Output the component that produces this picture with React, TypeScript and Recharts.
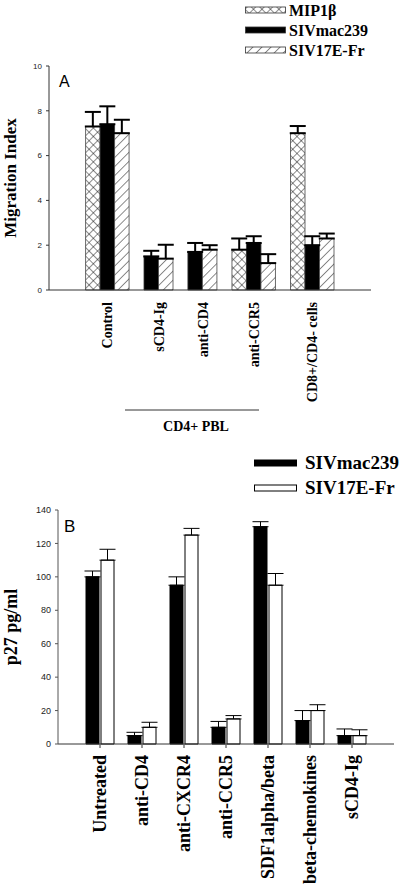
import React from 'react';
import { BarChart, Bar, XAxis, YAxis, ErrorBar, Legend } from 'recharts';

// ---------- Panel A data ----------
const groupsA = ['Control', 'sCD4-Ig', 'anti-CD4', 'anti-CCR5', 'CD8+/CD4- cells'];
const xPosA = [2, 3.5, 5, 7, 9];
const mipA = [7.3, null, null, 1.8, 7.0];
const mipAErr = [0.65, null, null, 0.5, 0.32];
const mac239A = [7.4, 1.5, 1.7, 2.1, 2.0];
const mac239AErr = [0.8, 0.25, 0.4, 0.3, 0.4];
const e17A = [7.0, 1.4, 1.8, 1.2, 2.3];
const e17AErr = [0.6, 0.62, 0.2, 0.4, 0.22];
const yTicksA = [0, 2, 4, 6, 8, 10];
const xTicksA = [1, 2, 3, 4, 5, 6, 7, 8, 9, 10, 11];
const seriesNamesA = ['MIP1β', 'SIVmac239', 'SIV17E-Fr'];

// ---------- Panel B data ----------
const catsB = ['Untreated', 'anti-CD4', 'anti-CXCR4', 'anti-CCR5', 'SDF1alpha/beta', 'beta-chemokines', 'sCD4-Ig'];
const mac239B = [100, 5, 95, 10, 130, 14, 5];
const mac239BErr = [3.5, 2, 5, 3.5, 3, 6, 4];
const e17B = [110, 10, 125, 15, 95, 20, 5];
const e17BErr = [6.5, 3, 4, 2, 7, 3.5, 3.5];
const yTicksB = [0, 20, 40, 60, 80, 100, 120, 140];
const seriesNamesB = ['SIVmac239', 'SIV17E-Fr'];

const SERIF = '"Liberation Serif", "Times New Roman", serif';
const SANS = '"Liberation Sans", Arial, sans-serif';

const fillsA = ['url(#crossA)', '#000', 'url(#hatchA)'];
const fillsB = ['#000', '#fff'];

const up = (v: number | null, e: number | null) => (v == null || e == null ? undefined : [0, e]);

const seriesOffsets = [-0.5, 0, 0.5];
const dataA = groupsA.map((name, i) => {
  const vals = [mipA[i], mac239A[i], e17A[i]];
  const present = seriesOffsets.filter((_, k) => vals[k] != null);
  const lx = xPosA[i] + present.reduce((s, o) => s + o, 0) / present.length;
  return {
    name,
    x: xPosA[i],
    lx,
    mip: mipA[i],
    mipErr: up(mipA[i], mipAErr[i]),
    mac: mac239A[i],
    macErr: up(mac239A[i], mac239AErr[i]),
    e17: e17A[i],
    e17Err: up(e17A[i], e17AErr[i]),
  };
});

const dataB = catsB.map((name, i) => ({
  name,
  mac: mac239B[i],
  macErr: up(mac239B[i], mac239BErr[i]),
  e17: e17B[i],
  e17Err: up(e17B[i], e17BErr[i]),
}));

const labelByX: Record<string, string> = {};
dataA.forEach((d) => { labelByX[String(d.lx)] = d.name; });

const RotTickA = (props: any) => {
  const { x, y, payload } = props;
  const y0 = y + 2;
  return (
    <text x={x} y={y0} dy="0.35em" transform={`rotate(-90 ${x} ${y0})`} textAnchor="end"
      fontFamily={SERIF} fontWeight="bold" fontSize={14} fill="#000">
      {labelByX[String(payload.value)]}
    </text>
  );
};

const RotTickB = (props: any) => {
  const { x, y, payload } = props;
  const y0 = y + 7;
  return (
    <text x={x} y={y0} dy="0.35em" transform={`rotate(-90 ${x} ${y0})`} textAnchor="end"
      fontFamily={SERIF} fontWeight="bold" fontSize={18} fill="#000">
      {payload.value}
    </text>
  );
};

const YLabel = ({ text, cx, cy, size }: { text: string; cx: number; cy: number; size: number }) => (
  <text x={cx} y={cy} dy="0.35em" transform={`rotate(-90 ${cx} ${cy})`} textAnchor="middle"
    fontFamily={SERIF} fontWeight="bold" fontSize={size} fill="#000">
    {text}
  </text>
);

const legendA = () => (
  <svg width={155} height={60} style={{ display: 'block' }}>
    {seriesNamesA.map((n, i) => (
      <g key={n}>
        <rect x={0.5} y={7 + i * 20} width={40} height={6} fill={fillsA[i]} stroke="#333" strokeWidth={0.8} />
        <text x={44} y={10 + i * 20} dy="0.35em" fontFamily={SERIF} fontWeight="bold" fontSize={16} fill="#000">{n}</text>
      </g>
    ))}
  </svg>
);

const legendB = () => (
  <svg width={146} height={60} style={{ display: 'block' }}>
    {seriesNamesB.map((n, i) => (
      <g key={n}>
        <rect x={0.5} y={10 + i * 25} width={42} height={6} fill={fillsB[i]} stroke="#000" strokeWidth={1} />
        <text x={51} y={12 + i * 25} dy="0.35em" fontFamily={SERIF} fontWeight="bold" fontSize={19} fill="#000">{n}</text>
      </g>
    ))}
  </svg>
);

export default function App() {
  return (
    <div style={{ position: 'absolute', left: 0, top: 0, width: 400, height: 893, background: '#fff', overflow: 'hidden' }}>
      {/* Panel A */}
      <div style={{ position: 'absolute', left: 0, top: 0 }}>
        <BarChart width={400} height={440} data={dataA} margin={{ top: 66, right: 29, left: 0, bottom: 0 }}
          barGap={0} barSize={14.5}>
          <defs>
            <pattern id="crossA" patternUnits="userSpaceOnUse" width={6} height={6} patternTransform="rotate(45)">
              <rect width={6} height={6} fill="#fff" />
              <line x1={0} y1={0} x2={0} y2={6} stroke="#000" strokeWidth={0.9} />
              <line x1={0} y1={0} x2={6} y2={0} stroke="#000" strokeWidth={0.9} />
            </pattern>
            <pattern id="hatchA" patternUnits="userSpaceOnUse" width={6.4} height={6.4} patternTransform="rotate(45)">
              <rect width={6.4} height={6.4} fill="#fff" />
              <line x1={0} y1={0} x2={0} y2={6.4} stroke="#000" strokeWidth={0.9} />
            </pattern>
          </defs>
          <XAxis dataKey="x" type="number" domain={[0, 11]} ticks={xTicksA} tick={false} tickSize={4}
            height={10} axisLine={{ stroke: '#333' }} tickLine={{ stroke: '#333' }} />
          <XAxis xAxisId="lab" dataKey="lx" type="number" domain={[0, 11]} ticks={dataA.map((d) => d.lx)}
            interval={0} axisLine={false} tickLine={false} tickSize={0} tickMargin={0} height={140} tick={<RotTickA />} />
          <XAxis xAxisId="top" orientation="top" height={0} tick={false} tickLine={false} axisLine={{ stroke: '#777' }} />
          <YAxis domain={[0, 10]} ticks={yTicksA} width={49} tickSize={3} tickMargin={4}
            axisLine={{ stroke: '#333' }} tickLine={{ stroke: '#333' }}
            tick={{ fontSize: 8, fontFamily: SANS, fill: '#222' }}
            label={{ content: () => <YLabel text="Migration Index" cx={10} cy={178} size={17} /> }} />
          <YAxis yAxisId="r" orientation="right" width={0} tick={false} tickLine={false} axisLine={{ stroke: '#777' }} />
          <Legend layout="horizontal" verticalAlign="middle" align="center" content={legendA}
            wrapperStyle={{ position: 'absolute', left: 245, top: 0, width: 155, height: 60 }} />
          <Bar dataKey="mip" name={seriesNamesA[0]} fill={fillsA[0]} stroke="#444" strokeWidth={0.8} isAnimationActive={false}>
            <ErrorBar dataKey="mipErr" width={8} strokeWidth={2} stroke="#000" direction="y" />
          </Bar>
          <Bar dataKey="mac" name={seriesNamesA[1]} fill={fillsA[1]} stroke="#333" strokeWidth={0.8} isAnimationActive={false}>
            <ErrorBar dataKey="macErr" width={8} strokeWidth={2} stroke="#000" direction="y" />
          </Bar>
          <Bar dataKey="e17" name={seriesNamesA[2]} fill={fillsA[2]} stroke="#444" strokeWidth={0.8} isAnimationActive={false}>
            <ErrorBar dataKey="e17Err" width={8} strokeWidth={2} stroke="#000" direction="y" />
          </Bar>
        </BarChart>
      </div>

      {/* CD4+ PBL group annotation */}
      <svg style={{ position: 'absolute', left: 0, top: 400 }} width={400} height={40}>
        <line x1={125} y1={10} x2={259} y2={10} stroke="#333" strokeWidth={1} />
        <text x={196} y={31} textAnchor="middle" fontFamily={SERIF} fontWeight="bold" fontSize={14} fill="#000">CD4+ PBL</text>
      </svg>

      {/* Panel B */}
      <div style={{ position: 'absolute', left: 0, top: 440 }}>
        <BarChart width={400} height={453} data={dataB} margin={{ top: 70, right: 6, left: 0, bottom: 0 }}
          barGap={2} barSize={13}>
          <XAxis dataKey="name" padding={{ left: 21, right: 21 }} interval={0} tickSize={4} tickMargin={0}
            height={149} axisLine={{ stroke: '#333' }} tickLine={{ stroke: '#333' }} tick={<RotTickB />} />
          <XAxis xAxisId="top" orientation="top" height={0} tick={false} tickLine={false} axisLine={{ stroke: '#333' }} />
          <YAxis domain={[0, 140]} ticks={yTicksB} width={58} tickSize={3} tickMargin={4}
            axisLine={{ stroke: '#555' }} tickLine={{ stroke: '#555' }}
            tick={{ fontSize: 9, fontFamily: SANS, fill: '#222' }}
            label={{ content: () => <YLabel text="p27 pg/ml" cx={11} cy={187} size={18} /> }} />
          <YAxis yAxisId="r" orientation="right" width={0} tick={false} tickLine={false} axisLine={{ stroke: '#333' }} />
          <Legend layout="horizontal" verticalAlign="middle" align="center" content={legendB}
            wrapperStyle={{ position: 'absolute', left: 254, top: 10, width: 146, height: 60 }} />
          <Bar dataKey="mac" name={seriesNamesB[0]} fill={fillsB[0]} stroke="#000" strokeWidth={1} isAnimationActive={false}>
            <ErrorBar dataKey="macErr" width={8} strokeWidth={1} stroke="#000" direction="y" />
          </Bar>
          <Bar dataKey="e17" name={seriesNamesB[1]} fill={fillsB[1]} stroke="#000" strokeWidth={1} isAnimationActive={false}>
            <ErrorBar dataKey="e17Err" width={8} strokeWidth={1} stroke="#000" direction="y" />
          </Bar>
        </BarChart>
      </div>

      {/* Panel letters */}
      <div style={{ position: 'absolute', left: 59, top: 74, fontFamily: SANS, fontSize: 16, color: '#000', lineHeight: '16px' }}>A</div>
      <div style={{ position: 'absolute', left: 64, top: 518, fontFamily: SANS, fontSize: 17, color: '#000', lineHeight: '17px' }}>B</div>
    </div>
  );
}
